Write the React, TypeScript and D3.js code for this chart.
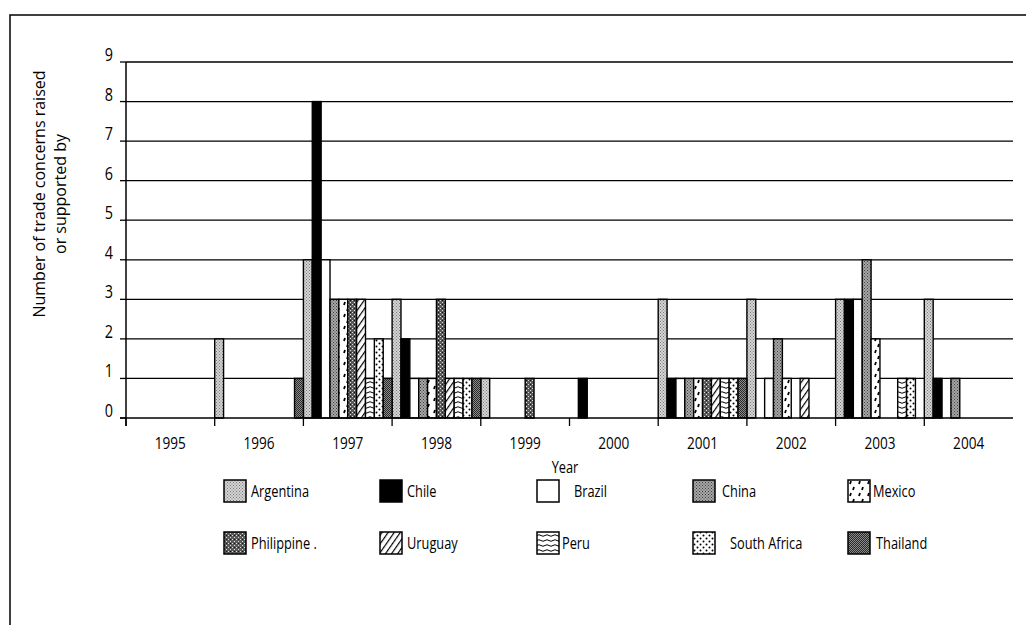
import React, { useEffect, useRef } from 'react';
import * as d3 from 'd3';

const years = ['1995', '1996', '1997', '1998', '1999', '2000', '2001', '2002', '2003', '2004'];
const countries = ['Argentina', 'Chile', 'Brazil', 'China', 'Mexico', 'Philippine', 'Uruguay', 'Peru', 'South Africa', 'Thailand'];

// one array per country, in the order of years
const argentina = [0, 2, 4, 3, 1, 0, 3, 3, 3, 3];
const chile = [0, 0, 8, 2, 0, 1, 1, 0, 3, 1];
const brazil = [0, 0, 4, 1, 0, 0, 1, 1, 3, 0];
const china = [0, 0, 3, 1, 0, 0, 1, 2, 4, 1];
const mexico = [0, 0, 3, 1, 0, 0, 1, 1, 2, 0];
const philippine = [0, 0, 3, 3, 1, 0, 1, 0, 0, 0];
const uruguay = [0, 0, 3, 1, 0, 0, 1, 1, 0, 0];
const peru = [0, 0, 1, 1, 0, 0, 1, 0, 1, 0];
const southAfrica = [0, 0, 2, 1, 0, 0, 1, 0, 1, 0];
const thailand = [0, 1, 1, 1, 0, 0, 1, 0, 0, 0];

const seriesValues = [argentina, chile, brazil, china, mexico, philippine, uruguay, peru, southAfrica, thailand];
const yTicks = [0, 1, 2, 3, 4, 5, 6, 7, 8, 9];

const labelFont = "'Open Sans', 'Noto Sans', sans-serif";
const squeeze = 0.8; // the scan uses a condensed face

const App: React.FC = () => {
    const svgRef = useRef<SVGSVGElement>(null);

    useEffect(() => {
        const svg = d3.select(svgRef.current);
        svg.selectAll('*').remove();

        const width = 1026;
        const height = 625;
        const margin = { left: 126, right: 13, top: 62, bottom: 207 };

        // condensed text: place with translate, then squeeze horizontally
        const narrowText = (parent: any, px: number, py: number, anchor: string, size: number, txt: string) => {
            parent.append('text')
                .attr('transform', `translate(${px},${py}) scale(${squeeze},1)`)
                .attr('text-anchor', anchor)
                .style('font-family', labelFont).style('font-size', `${size}px`)
                .text(txt);
        };

        // patterns standing in for the scanned textures
        const defs = svg.append('defs');
        const stipple = (id: string, bg: string, fg: string, size: number) => {
            const p = defs.append('pattern').attr('id', id).attr('patternUnits', 'userSpaceOnUse')
                .attr('width', size).attr('height', size);
            p.append('rect').attr('width', size).attr('height', size).attr('fill', bg);
            p.append('rect').attr('x', 0).attr('y', 0).attr('width', 1).attr('height', 1).attr('fill', fg);
            p.append('rect').attr('x', size / 2).attr('y', size / 2).attr('width', 1).attr('height', 1).attr('fill', fg);
        };
        stipple('p-argentina', '#d4d4d4', '#7a7a7a', 3);
        stipple('p-china', '#a8a8a8', '#3c3c3c', 3);
        stipple('p-thailand', '#8a8a8a', '#2a2a2a', 2);

        const phil = defs.append('pattern').attr('id', 'p-philippine').attr('patternUnits', 'userSpaceOnUse')
            .attr('width', 4).attr('height', 4);
        phil.append('rect').attr('width', 4).attr('height', 4).attr('fill', '#5a5a5a');
        phil.append('rect').attr('width', 1).attr('height', 1).attr('fill', '#e0e0e0');
        phil.append('rect').attr('x', 2).attr('y', 2).attr('width', 1).attr('height', 1).attr('fill', '#e0e0e0');
        phil.append('rect').attr('x', 2).attr('y', 0).attr('width', 1).attr('height', 1).attr('fill', '#111');

        const mex = defs.append('pattern').attr('id', 'p-mexico').attr('patternUnits', 'userSpaceOnUse')
            .attr('width', 9).attr('height', 12);
        mex.append('rect').attr('width', 9).attr('height', 12).attr('fill', '#fff');
        mex.append('path').attr('d', 'M3 2 L2 5 M6 8 L5 11').attr('stroke', '#000').attr('stroke-width', 1.8);

        const uru = defs.append('pattern').attr('id', 'p-uruguay').attr('patternUnits', 'userSpaceOnUse')
            .attr('width', 5).attr('height', 5).attr('patternTransform', 'rotate(35)');
        uru.append('rect').attr('width', 5).attr('height', 5).attr('fill', '#fff');
        uru.append('line').attr('x1', 0).attr('y1', 0).attr('x2', 0).attr('y2', 5)
            .attr('stroke', '#000').attr('stroke-width', 2.4);

        const per = defs.append('pattern').attr('id', 'p-peru').attr('patternUnits', 'userSpaceOnUse')
            .attr('width', 8).attr('height', 5);
        per.append('rect').attr('width', 8).attr('height', 5).attr('fill', '#fff');
        per.append('path').attr('d', 'M0 2.5 Q2 1 4 2.5 T8 2.5').attr('fill', 'none')
            .attr('stroke', '#000').attr('stroke-width', 1);

        const sa = defs.append('pattern').attr('id', 'p-sa').attr('patternUnits', 'userSpaceOnUse')
            .attr('width', 6).attr('height', 6);
        sa.append('rect').attr('width', 6).attr('height', 6).attr('fill', '#fff');
        sa.append('circle').attr('cx', 1.5).attr('cy', 1.5).attr('r', 1).attr('fill', '#000');
        sa.append('circle').attr('cx', 4.5).attr('cy', 4.5).attr('r', 1).attr('fill', '#000');

        const fills = ['url(#p-argentina)', '#000', '#fff', 'url(#p-china)', 'url(#p-mexico)',
            'url(#p-philippine)', 'url(#p-uruguay)', 'url(#p-peru)', 'url(#p-sa)', 'url(#p-thailand)'];

        // outer frame (top and left only, as in the scan)
        svg.append('path').attr('d', `M10 ${height} L10 15 L${width} 15`)
            .attr('fill', 'none').attr('stroke', '#000').attr('stroke-width', 1.5);

        const x = d3.scaleBand().domain(years).range([margin.left, width - margin.right]).padding(0);
        const inner = d3.scaleBand().domain(countries).range([0, x.bandwidth()]).padding(0);
        const y = d3.scaleLinear().domain([0, 9]).range([height - margin.bottom, margin.top]);

        // gridlines
        svg.append('g').selectAll('line').data(yTicks.filter(t => t > 0)).enter().append('line')
            .attr('x1', margin.left).attr('x2', width - margin.right)
            .attr('y1', d => y(d)).attr('y2', d => y(d))
            .attr('stroke', '#000').attr('stroke-width', 1.3);

        // bars
        const bars: { year: string; country: string; value: number; i: number }[] = [];
        seriesValues.forEach((vals, i) => {
            vals.forEach((v, j) => {
                if (v > 0) bars.push({ year: years[j], country: countries[i], value: v, i });
            });
        });
        svg.append('g').selectAll('rect').data(bars).enter().append('rect')
            .attr('x', d => (x(d.year) as number) + (inner(d.country) as number))
            .attr('y', d => y(d.value))
            .attr('width', inner.bandwidth())
            .attr('height', d => y(0) - y(d.value))
            .attr('fill', d => fills[d.i])
            .attr('stroke', '#000').attr('stroke-width', 1.4);

        // y axis
        const yAxis = svg.append('g');
        yAxis.append('line').attr('x1', margin.left).attr('x2', margin.left)
            .attr('y1', y(9)).attr('y2', y(0) + 8).attr('stroke', '#000').attr('stroke-width', 1.5);
        yAxis.selectAll('.yt').data(yTicks).enter().append('line')
            .attr('x1', margin.left - 6).attr('x2', margin.left)
            .attr('y1', d => y(d)).attr('y2', d => y(d)).attr('stroke', '#000').attr('stroke-width', 1.3);
        yTicks.forEach(t => narrowText(yAxis, margin.left - 13, y(t) - 1, 'end', 18, String(t)));

        // x axis
        const xAxis = svg.append('g');
        xAxis.append('line').attr('x1', margin.left - 6).attr('x2', width - margin.right)
            .attr('y1', y(0)).attr('y2', y(0)).attr('stroke', '#000').attr('stroke-width', 1.6);
        xAxis.selectAll('.xt').data(years).enter().append('line')
            .attr('x1', d => x(d) as number).attr('x2', d => x(d) as number)
            .attr('y1', y(0)).attr('y2', y(0) + 8).attr('stroke', '#000').attr('stroke-width', 1.3);
        years.forEach(yr => narrowText(xAxis, (x(yr) as number) + x.bandwidth() / 2, y(0) + 31, 'middle', 17, yr));

        narrowText(svg, 565, 473, 'middle', 16, 'Year');

        // y axis title
        const yTitle = svg.append('text').attr('transform', 'translate(45,194) rotate(-90)')
            .attr('text-anchor', 'middle').style('font-family', labelFont).style('font-size', '16px');
        yTitle.append('tspan').attr('x', 0).attr('dy', 0).text('Number of trade concerns raised');
        yTitle.append('tspan').attr('x', 0).attr('dy', 21).text('or supported by');

        // legend
        const legendX = [224, 380, 537, 693, 848];
        const legendY = [491, 543];
        const labelGap = [27, 27, 37, 29, 25, 27, 27, 25, 37, 28];
        const legend = svg.append('g').selectAll('g').data(countries).enter().append('g')
            .attr('transform', (d, i) => `translate(${legendX[i % 5]},${legendY[Math.floor(i / 5)]})`);
        legend.append('rect').attr('x', 0).attr('y', -11).attr('width', 22).attr('height', 22)
            .attr('fill', (d, i) => fills[i]).attr('stroke', '#000').attr('stroke-width', 1.5);
        legend.each(function (d, i) {
            narrowText(d3.select(this), labelGap[i], 6, 'start', 16, d === 'Philippine' ? 'Philippine .' : d);
        });
    }, []);

    return (
        <svg
            ref={svgRef}
            width={1026}
            height={625}
            style={{ position: 'absolute', left: 0, top: 0, background: '#fff' }}
        />
    );
};

export default App;
